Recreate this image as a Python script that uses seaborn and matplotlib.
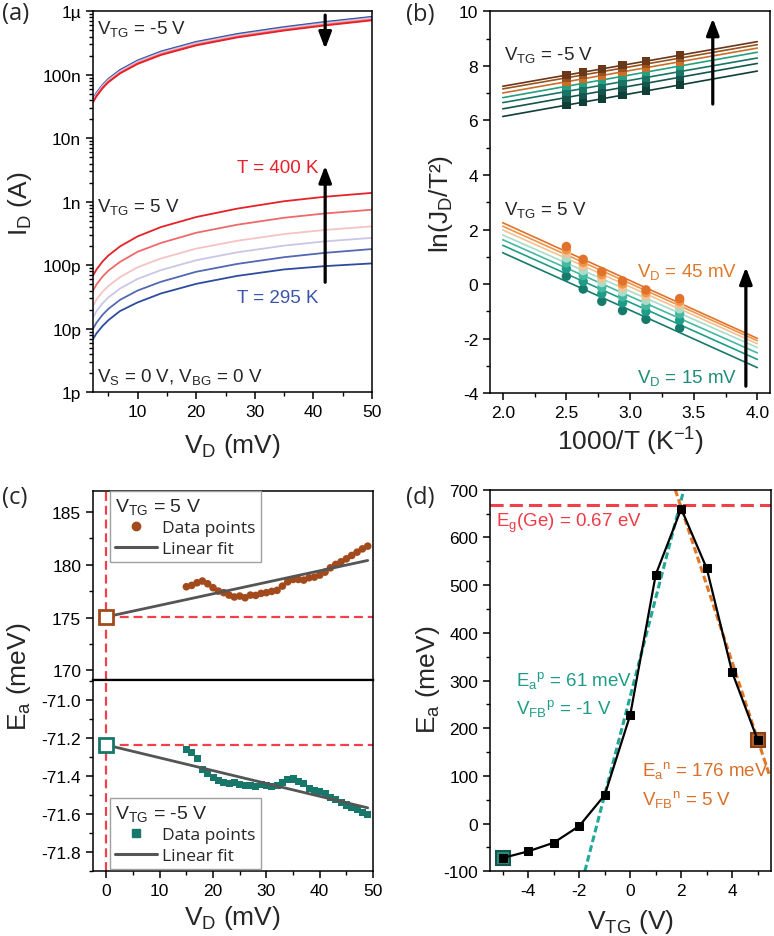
import numpy as np
import pandas as pd
import matplotlib
matplotlib.use("Agg")
import matplotlib.pyplot as plt
from matplotlib.lines import Line2D
from matplotlib.ticker import (MultipleLocator, FixedLocator, FixedFormatter, LogLocator,
                               NullFormatter, FormatStrFormatter)
import seaborn as sns

# ---------------- (a) I_D vs V_D at six temperatures ----------------
VD_GRID = [2.4, 3, 4, 5, 7, 10, 14, 20, 27, 35, 42, 50]
TEMPS = [295, 320, 340, 360, 380, 400]
T_COLORS = ["#2E4C9E", "#5468B2", "#C9C7E8", "#F6C3C3", "#EE6A6A", "#E52129"]

# V_TG = 5 V (pA)
ID_POS_295 = [6.9, 8.5, 11, 13.6, 19, 26, 36, 51, 68, 86, 97, 107]
ID_POS_320 = [10, 12.5, 16.5, 20.5, 28.5, 40, 55, 79, 105, 134, 157, 180]
ID_POS_340 = [15, 19, 25, 31, 43, 61, 84, 120, 160, 204, 238, 270]
ID_POS_360 = [23, 29, 38, 47, 65, 93, 128, 183, 243, 310, 360, 410]
ID_POS_380 = [40, 50, 66, 82, 113, 163, 225, 325, 435, 560, 655, 750]
ID_POS_400 = [69, 86, 114, 142, 198, 285, 400, 575, 780, 1020, 1200, 1380]

# V_TG = -5 V (nA)
ID_NEG_295 = [42, 52, 69, 86, 119, 168, 233, 330, 440, 565, 680, 820]
ID_NEG_320 = [41, 51, 67.5, 84, 116, 164, 227, 322, 429, 551, 663, 800]
ID_NEG_340 = [40, 49.5, 66, 82, 113, 160, 222, 314, 418, 537, 647, 780]
ID_NEG_360 = [39, 48.5, 64, 80, 110, 156, 216, 306, 408, 524, 630, 760]
ID_NEG_380 = [38, 47, 62.5, 78, 107, 152, 211, 298, 397, 510, 614, 740]
ID_NEG_400 = [37, 46, 61, 76, 105, 148, 205, 290, 387, 497, 598, 720]

ID_POS = [ID_POS_295, ID_POS_320, ID_POS_340, ID_POS_360, ID_POS_380, ID_POS_400]
ID_NEG = [ID_NEG_295, ID_NEG_320, ID_NEG_340, ID_NEG_360, ID_NEG_380, ID_NEG_400]

# ---------------- (b) Arrhenius plot ----------------
INV_T = [2.5, 2.632, 2.778, 2.941, 3.125, 3.39]
VD_LEVELS = [15, 20, 25, 30, 35, 40, 45]
LN_NEG = [
    [6.56, 6.67, 6.79, 6.93, 7.08, 7.30],
    [6.84, 6.95, 7.07, 7.21, 7.36, 7.58],
    [7.06, 7.17, 7.29, 7.42, 7.57, 7.79],
    [7.25, 7.36, 7.48, 7.62, 7.77, 7.99],
    [7.42, 7.52, 7.65, 7.78, 7.93, 8.15],
    [7.56, 7.67, 7.78, 7.92, 8.07, 8.28],
    [7.66, 7.77, 7.89, 8.02, 8.17, 8.39],
]
LN_POS = [
    [0.29, -0.18, -0.63, -0.97, -1.29, -1.61],
    [0.57, 0.10, -0.35, -0.68, -1.00, -1.32],
    [0.78, 0.32, -0.13, -0.46, -0.78, -1.09],
    [0.96, 0.50, 0.06, -0.28, -0.59, -0.90],
    [1.13, 0.67, 0.22, -0.11, -0.43, -0.75],
    [1.26, 0.80, 0.35, 0.01, -0.31, -0.63],
    [1.38, 0.91, 0.46, 0.12, -0.21, -0.53],
]
NEG_COLORS = ["#0F3F37", "#15564C", "#1A7466", "#27A07F", "#C96F2A", "#9A521F", "#6A3719"]
POS_COLORS = ["#167A6C", "#1F9C87", "#45B8A0", "#A8DCCB", "#F6C190", "#EF9548", "#E2712A"]

# ---------------- (c) E_a vs V_D ----------------
VD_C = list(range(15, 50))
EA_POS_C = [177.92, 178.05, 178.30, 178.46, 178.20, 177.83, 177.51, 177.36, 177.13, 176.95,
            177.04, 176.88, 177.13, 177.10, 177.29, 177.36, 177.48, 177.58, 177.98, 178.39,
            178.61, 178.61, 178.55, 178.77, 178.83, 179.02, 179.30, 179.71, 180.03, 180.28,
            180.56, 180.88, 181.19, 181.50, 181.76]
EA_NEG_C = [-71.262, -71.279, -71.307, -71.367, -71.389, -71.407, -71.424, -71.433, -71.438, -71.436,
            -71.444, -71.451, -71.448, -71.454, -71.444, -71.448, -71.454, -71.448, -71.433, -71.419,
            -71.416, -71.430, -71.438, -71.465, -71.477, -71.483, -71.494, -71.512, -71.524, -71.538,
            -71.552, -71.564, -71.577, -71.590, -71.601]

# ---------------- (d) E_a vs V_TG ----------------
VTG = [-5, -4, -3, -2, -1, 0, 1, 2, 3, 4, 5]
EA_D = [-72, -58, -40, -5, 60, 228, 522, 660, 535, 317, 175]
EG_GE = 667
P_VFB, P_EA, P_SLOPE = -1, 61, 206
N_VFB, N_EA, N_SLOPE = 5, 176, -162

BROWN = "#A34A1C"
TEAL = "#17776A"
FIT_GREY = "#555555"
RED_DASH = "#F0404A"

sns.set_theme(style="ticks")
plt.rcParams.update({
    "font.family": ["Liberation Sans", "DejaVu Sans"],
    "mathtext.fontset": "custom",
    "mathtext.rm": "Liberation Sans",
    "mathtext.it": "Liberation Sans",
    "mathtext.default": "regular",
    "axes.unicode_minus": False,
    "axes.linewidth": 1.1,
    "axes.edgecolor": "black",
    "xtick.direction": "out",
    "ytick.direction": "out",
    "xtick.major.size": 5,
    "ytick.major.size": 5,
    "xtick.minor.size": 2.8,
    "ytick.minor.size": 2.8,
    "xtick.major.width": 1.1,
    "ytick.major.width": 1.1,
    "xtick.minor.width": 1.0,
    "ytick.minor.width": 1.0,
    "xtick.labelsize": 12.5,
    "ytick.labelsize": 12.5,
    "xtick.color": "black",
    "ytick.color": "black",
})

fig = plt.figure(figsize=(7.74, 9.37), dpi=100)
ax_a = fig.add_axes([0.1202, 0.5803, 0.3605, 0.4066])
ax_b = fig.add_axes([0.6331, 0.5792, 0.3618, 0.4077])
ax_c1 = fig.add_axes([0.1202, 0.2732, 0.3618, 0.2020])
ax_c2 = fig.add_axes([0.1202, 0.0690, 0.3618, 0.2042])
ax_d = fig.add_axes([0.6331, 0.0690, 0.3630, 0.4073])

LABEL_FS = 19
ANN_FS = 13.5


def arrow(ax, tail, head):
    ax.annotate("", xy=head, xytext=tail,
                arrowprops=dict(arrowstyle="-|>,head_length=1.0,head_width=0.38",
                                mutation_scale=10, lw=2.3, color="black",
                                shrinkA=0, shrinkB=0))


# ---- panel (a)
rows = []
for t, pos, neg in zip(TEMPS, ID_POS, ID_NEG):
    for v, ip, ineg in zip(VD_GRID, pos, neg):
        rows.append((v, t, ip * 1e-12, ineg * 1e-9))
df_a = pd.DataFrame(rows, columns=["vd", "T", "pos", "neg"])
pal_a = dict(zip(TEMPS, T_COLORS))
sns.lineplot(data=df_a, x="vd", y="pos", hue="T", palette=pal_a, lw=1.3,
             estimator=None, legend=False, ax=ax_a)
sns.lineplot(data=df_a, x="vd", y="neg", hue="T", palette=pal_a, lw=1.3,
             estimator=None, legend=False, ax=ax_a)
ax_a.set_yscale("log")
ax_a.set_xlim(2.4, 50)
ax_a.set_ylim(1e-12, 1e-6)
ax_a.yaxis.set_major_locator(FixedLocator([1e-12, 1e-11, 1e-10, 1e-9, 1e-8, 1e-7, 1e-6]))
ax_a.yaxis.set_major_formatter(FixedFormatter(["1p", "10p", "100p", "1n", "10n", "100n", "1µ"]))
ax_a.yaxis.set_minor_locator(LogLocator(base=10, subs=np.arange(2, 10), numticks=20))
ax_a.yaxis.set_minor_formatter(NullFormatter())
ax_a.xaxis.set_major_locator(FixedLocator([10, 20, 30, 40, 50]))
ax_a.xaxis.set_minor_locator(FixedLocator([5, 15, 25, 35, 45]))
ax_a.set_xlabel("")
ax_a.set_ylabel("")
ax_a.text(3.0, 4.55e-7, "V$_{TG}$ = -5 V", fontsize=ANN_FS, va="baseline")
ax_a.text(3.0, 7.2e-10, "V$_{TG}$ = 5 V", fontsize=ANN_FS, va="baseline")
ax_a.text(3.0, 1.52e-12, "V$_S$ = 0 V, V$_{BG}$ = 0 V", fontsize=ANN_FS, va="baseline")
ax_a.text(40.8, 2.98e-9, "T = 400 K", fontsize=ANN_FS, va="baseline", ha="right", color="#E8202A")
ax_a.text(40.8, 2.67e-11, "T = 295 K", fontsize=ANN_FS, va="baseline", ha="right", color="#3A55A8")
arrow(ax_a, (42, 8.7e-7), (42, 2.55e-7))
arrow(ax_a, (42, 5.4e-11), (42, 3.7e-9))

# ---- panel (b): fits span 2.0 to 4.0, so set the limits first
ax_b.set_xlim(2.0, 4.0)
for vals, col in zip(LN_NEG + LN_POS, NEG_COLORS + POS_COLORS):
    sns.regplot(x=INV_T, y=vals, ci=None, scatter=False, truncate=False,
                line_kws=dict(color=col, lw=1.2), ax=ax_b)
neg_rows, pos_rows = [], []
for vd, vn, vp in zip(VD_LEVELS, LN_NEG, LN_POS):
    for x, yn, yp in zip(INV_T, vn, vp):
        neg_rows.append((x, yn, vd))
        pos_rows.append((x, yp, vd))
df_bn = pd.DataFrame(neg_rows, columns=["x", "y", "vd"])
df_bp = pd.DataFrame(pos_rows, columns=["x", "y", "vd"])
sns.scatterplot(data=df_bn, x="x", y="y", hue="vd", palette=dict(zip(VD_LEVELS, NEG_COLORS)),
                marker="s", s=36, edgecolor="none", legend=False, ax=ax_b, zorder=3)
sns.scatterplot(data=df_bp, x="x", y="y", hue="vd", palette=dict(zip(VD_LEVELS, POS_COLORS)),
                marker="o", s=46, edgecolor="none", legend=False, ax=ax_b, zorder=3)
ax_b.set_xlim(1.9, 4.1)
ax_b.set_ylim(-4, 10)
ax_b.xaxis.set_major_locator(MultipleLocator(0.5))
ax_b.xaxis.set_minor_locator(MultipleLocator(0.25))
ax_b.yaxis.set_major_locator(MultipleLocator(2))
ax_b.yaxis.set_minor_locator(MultipleLocator(1))
ax_b.xaxis.set_major_formatter(FormatStrFormatter("%.1f"))
ax_b.set_xlabel("")
ax_b.set_ylabel("")
ax_b.text(2.01, 8.25, "V$_{TG}$ = -5 V", fontsize=ANN_FS, va="baseline")
ax_b.text(2.01, 2.57, "V$_{TG}$ = 5 V", fontsize=ANN_FS, va="baseline")
ax_b.text(3.84, 0.29, "V$_D$ = 45 mV", fontsize=ANN_FS, va="baseline", ha="right", color="#E07828")
ax_b.text(3.84, -3.6, "V$_D$ = 15 mV", fontsize=ANN_FS, va="baseline", ha="right", color="#1E8C7A")
arrow(ax_b, (3.65, 6.6), (3.65, 9.74))
arrow(ax_b, (3.91, -3.74), (3.91, 0.62))

# ---- panel (c): two stacked axes
for ax, vals, col, mk, title, loc, anchor in [
    (ax_c1, EA_POS_C, BROWN, "o", "V$_{TG}$ = 5 V", "upper left", (0.061, 1.0)),
    (ax_c2, EA_NEG_C, TEAL, "s", "V$_{TG}$ = -5 V", "lower left", (0.061, 0.012)),
]:
    k, b = np.polyfit(VD_C, vals, 1)
    ax.axvline(0, color=RED_DASH, lw=1.6, dashes=(4, 2.2), zorder=1)
    ax.hlines(b, 0, 50, color=RED_DASH, lw=1.6, linestyles=(0, (4, 2.2)), zorder=1)
    sns.scatterplot(x=VD_C, y=vals, color=col, marker=mk, s=30 if mk == "o" else 26,
                    edgecolor="none", ax=ax, zorder=3)
    fx = np.array([0, 49])
    ax.plot(fx, k * fx + b, color=FIT_GREY, lw=2.0, zorder=4)
    ax.plot([0], [b], marker="s", ms=9.5, mfc="white", mec=col, mew=2.0, ls="none", zorder=5)
    h = [Line2D([], [], ls="none", marker=mk, ms=6, color=col),
         Line2D([], [], color=FIT_GREY, lw=2.2)]
    leg = ax.legend(h, ["Data points", "Linear fit"], title=title, loc=loc,
                    bbox_to_anchor=anchor, borderaxespad=0, frameon=True, fancybox=False,
                    edgecolor="#A0A0A0", framealpha=1, fontsize=12.5, title_fontsize=14,
                    handlelength=2.4, handletextpad=0.3, borderpad=0.3, labelspacing=0.25)
    leg._legend_box.align = "left"
    leg.get_frame().set_linewidth(1.0)
    for t in leg.get_texts():
        t.set_family(["Open Sans", "DejaVu Sans"])
    ax.set_xlim(-2.5, 50)
    ax.xaxis.set_major_locator(MultipleLocator(10))
    ax.xaxis.set_minor_locator(MultipleLocator(5))
    ax.set_xlabel("")
    ax.set_ylabel("")

ax_c1.set_ylim(169.1, 187)
ax_c1.yaxis.set_major_locator(MultipleLocator(5))
ax_c1.yaxis.set_minor_locator(MultipleLocator(2.5))
ax_c1.tick_params(axis="x", which="both", bottom=False, labelbottom=False)
ax_c1.spines["bottom"].set_linewidth(1.6)
ax_c2.set_ylim(-71.9, -70.897)
ax_c2.yaxis.set_major_locator(MultipleLocator(0.2))
ax_c2.yaxis.set_minor_locator(MultipleLocator(0.1))
ax_c2.yaxis.set_major_formatter(FormatStrFormatter("%.1f"))
ax_c2.spines["top"].set_linewidth(1.6)

# ---- panel (d)
ax_d.axhline(EG_GE, color=RED_DASH, lw=2.2, dashes=(4.3, 2.0), zorder=1)
yy = np.array([-100, 700])
ax_d.plot(P_VFB + (yy - P_EA) / P_SLOPE, yy, color="#22A896", lw=2.2, dashes=(2.2, 1.1), zorder=2)
xn = np.array([N_VFB + (700 - N_EA) / N_SLOPE, 5.45])
ax_d.plot(xn, N_EA + N_SLOPE * (xn - N_VFB), color="#E07828", lw=2.2, dashes=(2.2, 1.1), zorder=2)
ax_d.plot([VTG[0]], [EA_D[0]], marker="s", ms=10.5, mfc="#2A8C7C", mec="#17564E", mew=1.5, ls="none", zorder=3)
ax_d.plot([VTG[-1]], [EA_D[-1]], marker="s", ms=10.5, mfc="#B2622E", mec="#8A4318", mew=1.5, ls="none", zorder=3)
sns.lineplot(x=VTG, y=EA_D, color="black", lw=1.6, marker="s", markersize=5.5,
             markeredgecolor="black", estimator=None, ax=ax_d, zorder=4)
ax_d.set_xlim(-5.5, 5.52)
ax_d.set_ylim(-100, 700)
ax_d.xaxis.set_major_locator(MultipleLocator(2))
ax_d.xaxis.set_minor_locator(FixedLocator([-5, -3, -1, 1, 3, 5]))
ax_d.yaxis.set_major_locator(MultipleLocator(100))
ax_d.yaxis.set_minor_locator(MultipleLocator(50))
ax_d.set_xlabel("")
ax_d.set_ylabel("")
ax_d.text(-5.27, 624, "E$_g$(Ge) = 0.67 eV", fontsize=ANN_FS, va="baseline", color="#EE3B45")
ax_d.text(-4.48, 290, "E$_a$$^p$ = 61 meV", fontsize=ANN_FS, va="baseline", color="#1E9C8A")
ax_d.text(-4.48, 231, "V$_{FB}$$^p$ = -1 V", fontsize=ANN_FS, va="baseline", color="#1E9C8A")
ax_d.text(0.45, 102, "E$_a$$^n$ = 176 meV", fontsize=ANN_FS, va="baseline", color="#D9702A")
ax_d.text(0.45, 41, "V$_{FB}$$^n$ = 5 V", fontsize=ANN_FS, va="baseline", color="#D9702A")

for ax in [ax_a, ax_b, ax_c1, ax_c2, ax_d]:
    ax.tick_params(which="both", top=False, right=False)
    for s in ax.spines.values():
        s.set_visible(True)

# axis labels
fig.text(0.026, 0.783, "I$_D$ (A)", fontsize=LABEL_FS, rotation=90, ha="center", va="center")
fig.text(0.300, 0.5245, "V$_D$ (mV)", fontsize=LABEL_FS, ha="center", va="center")
fig.text(0.570, 0.782, "ln(J$_D$/T²)", fontsize=LABEL_FS, rotation=90, ha="center", va="center")
fig.text(0.814, 0.5286, "1000/T (K$^{-1}$)", fontsize=LABEL_FS, ha="center", va="center")
fig.text(0.024, 0.2775, "E$_a$ (meV)", fontsize=LABEL_FS, rotation=90, ha="center", va="center")
fig.text(0.300, 0.020, "V$_D$ (mV)", fontsize=LABEL_FS, ha="center", va="center")
fig.text(0.553, 0.275, "E$_a$ (meV)", fontsize=LABEL_FS, rotation=90, ha="center", va="center")
fig.text(0.8146, 0.0165, "V$_{TG}$ (V)", fontsize=LABEL_FS, ha="center", va="center")

# panel letters
for x, y, s in [(0.002, 0.998, "(a)"), (0.525, 0.997, "(b)"), (0.002, 0.481, "(c)"), (0.525, 0.481, "(d)")]:
    fig.text(x, y, s, fontsize=17, family=["Open Sans", "DejaVu Sans"], ha="left", va="top")

fig.savefig("out.png", dpi=100)
